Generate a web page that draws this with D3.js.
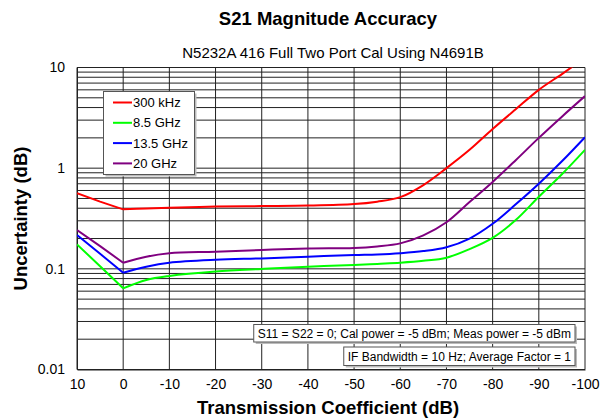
<!DOCTYPE html>
<html>
<head>
<meta charset="utf-8">
<script src="https://cdn.jsdelivr.net/npm/d3@7"></script>
<style>
  html, body { margin: 0; padding: 0; background: #fff; }
  svg { display: block; font-family: "Liberation Sans", Arial, sans-serif; }
</style>
</head>
<body>
<svg id="chart" width="602" height="419"></svg>
<script>
// ---- data ----
const transmission = [10, 5, 0, -5, -10, -20, -30, -40, -50, -55, -60, -65, -70, -75, -80, -85, -90, -95, -100];
const seriesNames = ["300 kHz", "8.5 GHz", "13.5 GHz", "20 GHz"];
const seriesColors = ["#ff0000", "#00ff00", "#0000ff", "#800080"];
const u300kHz = [0.565, 0.465, 0.39, 0.398, 0.405, 0.415, 0.42, 0.425, 0.44, 0.465, 0.515, 0.68, 1.0, 1.52, 2.45, 3.85, 6.0, 8.6, 12.5];
const u8p5GHz = [0.175, 0.106, 0.064, 0.0776, 0.085, 0.094, 0.0998, 0.105, 0.109, 0.112, 0.115, 0.12, 0.129, 0.157, 0.203, 0.305, 0.52, 0.87, 1.52];
const u13p5GHz = [0.217, 0.141, 0.0916, 0.105, 0.115, 0.123, 0.127, 0.132, 0.137, 0.139, 0.143, 0.15, 0.164, 0.20, 0.28, 0.437, 0.70, 1.17, 2.03];
const u20GHz = [0.243, 0.168, 0.115, 0.132, 0.143, 0.148, 0.154, 0.159, 0.161, 0.167, 0.179, 0.215, 0.29, 0.46, 0.73, 1.2, 2.0, 3.25, 5.2];
const xTickValues = [10, 0, -10, -20, -30, -40, -50, -60, -70, -80, -90, -100];
const yTickValues = [0.01, 0.1, 1, 10];
const yTickLabels = ["0.01", "0.1", "1", "10"];
const titleText = "S21 Magnitude Accuracy";
const subtitleText = "N5232A 416 Full Two Port Cal Using N4691B";
const xTitle = "Transmission Coefficient (dB)";
const yTitle = "Uncertainty (dB)";
const notes = ["S11 = S22 = 0; Cal power = -5 dBm; Meas power = -5 dBm", "IF Bandwidth = 10 Hz; Average Factor = 1"];

const allSeries = [u300kHz, u8p5GHz, u13p5GHz, u20GHz];

// ---- layout ----
const svg = d3.select("#chart");
const L = 77, R = 585, T = 67.5, B = 369.5;
const x = d3.scaleLinear().domain([10, -100]).range([L, R]);
const y = d3.scaleLog().domain([0.01, 10]).range([B, T]);

svg.append("rect").attr("width", 602).attr("height", 419).attr("fill", "#fff");

// grid
const minor = [];
[0.01, 0.1, 1].forEach(d => { for (let k = 1; k <= 9; k++) minor.push(d * k); });
minor.push(10);
const grid = svg.append("g");
grid.selectAll("line.h").data(minor).join("line")
  .attr("x1", L).attr("x2", R)
  .attr("y1", d => y(d)).attr("y2", d => y(d))
  .attr("stroke", "#222").attr("stroke-width", 1);
grid.selectAll("line.v").data(xTickValues).join("line")
  .attr("x1", d => x(d)).attr("x2", d => x(d))
  .attr("y1", T).attr("y2", B)
  .attr("stroke", "#222").attr("stroke-width", 1);

// axes (labels only)
const xAxis = d3.axisBottom(x).tickValues(xTickValues).tickSize(0).tickPadding(10).tickFormat(d => String(d));
const gx = svg.append("g").attr("transform", `translate(0,${B})`).call(xAxis);
gx.select(".domain").attr("stroke", "#222");
gx.selectAll("text").attr("font-size", 14).attr("fill", "#000").attr("font-family", "Liberation Sans, Arial, sans-serif");

const yAxis = d3.axisLeft(y).tickValues(yTickValues).tickSize(0).tickPadding(12)
  .tickFormat((d, i) => yTickLabels[i]);
const gy = svg.append("g").attr("transform", `translate(${L},0)`).call(yAxis);
gy.select(".domain").attr("stroke", "#222");
gy.selectAll("text").attr("font-size", 14).attr("fill", "#000").attr("font-family", "Liberation Sans, Arial, sans-serif");

// clip
svg.append("clipPath").attr("id", "plotclip").append("rect")
  .attr("x", L).attr("y", T).attr("width", R - L).attr("height", B - T);

const lineLin = d3.line().x(d => x(d[0])).y(d => y(d[1])).curve(d3.curveLinear);
const lineSmooth = d3.line().x(d => x(d[0])).y(d => y(d[1])).curve(d3.curveCatmullRom.alpha(0.5));
const curves = svg.append("g").attr("clip-path", "url(#plotclip)");
[3, 2, 1, 0].forEach(si => {
  const vals = allSeries[si];
  const pts = transmission.map((t, i) => [t, vals[i]]);
  const left = pts.filter(p => p[0] >= 0);
  const right = pts.filter(p => p[0] <= 0);
  curves.append("path").datum(left).attr("d", lineLin)
    .attr("fill", "none").attr("stroke", seriesColors[si]).attr("stroke-width", 2).attr("stroke-linejoin", "round");
  curves.append("path").datum(right).attr("d", lineSmooth)
    .attr("fill", "none").attr("stroke", seriesColors[si]).attr("stroke-width", 2).attr("stroke-linejoin", "round");
});

// titles
svg.append("text").attr("x", 328).attr("y", 25).attr("text-anchor", "middle")
  .attr("font-size", 18.5).attr("font-weight", "bold").text(titleText);
svg.append("text").attr("x", 333).attr("y", 58).attr("text-anchor", "middle")
  .attr("font-size", 15).text(subtitleText);
svg.append("text").attr("x", 328).attr("y", 414).attr("text-anchor", "middle")
  .attr("font-size", 18.5).attr("font-weight", "bold").text(xTitle);
svg.append("text").attr("transform", `translate(27,${(T + B) / 2}) rotate(-90)`).attr("text-anchor", "middle")
  .attr("font-size", 18.5).attr("font-weight", "bold").text(yTitle);

// legend
const lg = svg.append("g");
const lx = 103.5, ly = 91.5, lw = 91, lh = 83;
lg.append("rect").attr("x", lx + 2).attr("y", ly + 2).attr("width", lw).attr("height", lh).attr("fill", "#bbb");
lg.append("rect").attr("x", lx).attr("y", ly).attr("width", lw).attr("height", lh)
  .attr("fill", "#fff").attr("stroke", "#555").attr("stroke-width", 1);
seriesNames.forEach((n, i) => {
  const ry = 102.5 + i * 20.3;
  lg.append("line").attr("x1", 113).attr("x2", 132).attr("y1", ry).attr("y2", ry)
    .attr("stroke", seriesColors[i]).attr("stroke-width", 2);
  lg.append("text").attr("x", 133).attr("y", ry + 4.5).attr("font-size", 13).text(n);
});

// notes
const noteTops = [324.5, 347];
const noteHeights = [17.5, 18.5];
notes.forEach((n, i) => {
  const g = svg.append("g");
  const t = g.append("text").attr("font-size", 12).text(n);
  const w = t.node().getComputedTextLength();
  const bw = w + 8, bh = noteHeights[i];
  const bx = 575 - bw, by = noteTops[i];
  g.insert("rect", "text").attr("x", bx + 2).attr("y", by + 2).attr("width", bw).attr("height", bh).attr("fill", "#bbb");
  g.insert("rect", "text").attr("x", bx).attr("y", by).attr("width", bw).attr("height", bh)
    .attr("fill", "#fff").attr("stroke", "#555").attr("stroke-width", 1);
  t.attr("x", bx + 4).attr("y", by + bh / 2 + 4.3);
});
</script>
</body>
</html>
